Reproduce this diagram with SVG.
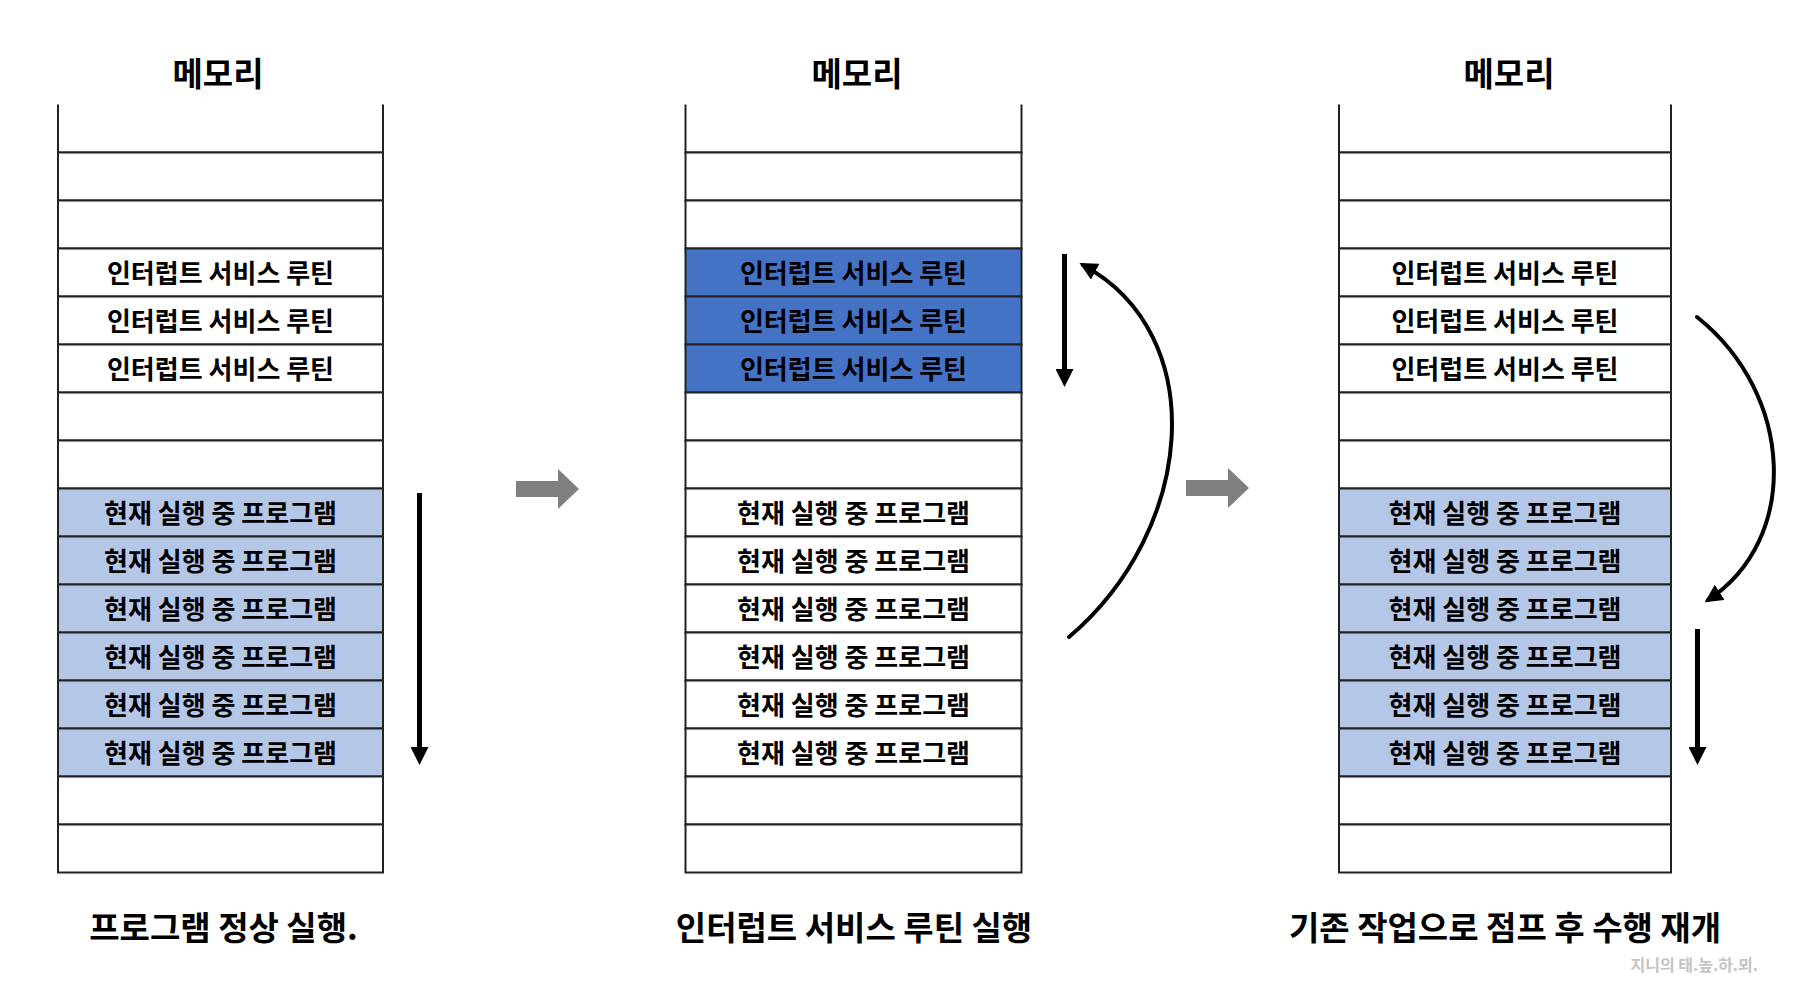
<svg xmlns="http://www.w3.org/2000/svg" width="1797" height="986" viewBox="0 0 1797 986">
<style>
text{font-family:"Noto Sans CJK KR","Noto Sans",sans-serif;fill:#000;text-anchor:middle;dominant-baseline:central}
.title{font-size:33px;font-weight:700}
.cap{font-size:33px;font-weight:700}
.lbl{font-size:26px;font-weight:700}
.wm{font-size:16px;font-weight:700;fill:#c4c4c4;text-anchor:end}
.cell{stroke:#222;stroke-width:2;fill:#fff}
.lb{fill:#b4c7e7}
.db{fill:#4472c4}
.shaft{stroke:#000;stroke-width:5;fill:none}
.curve{stroke:#000;stroke-width:4;fill:none;stroke-linecap:round}
.block{fill:#7f7f7f}
</style>
<defs>
<marker id="ah" markerUnits="userSpaceOnUse" markerWidth="18" markerHeight="18" viewBox="0 0 18 18" refX="0" refY="9" orient="auto"><path d="M0,0 L18,9 L0,18 z" fill="#000"/></marker>
<marker id="ahc" markerUnits="userSpaceOnUse" markerWidth="18" markerHeight="18" viewBox="0 0 18 18" refX="14" refY="9" orient="auto"><path d="M0,0 L18,9 L0,18 z" fill="#000"/></marker>
</defs>

<text class="title" x="218" y="72">메모리</text>
<text class="title" x="857" y="72">메모리</text>
<text class="title" x="1509" y="72">메모리</text>

<!-- Left column -->
<g id="col-left">
<g id="L0"><path class="cell" d="M58,104.5 V152.5 H383 V104.5"/></g>
<g id="L1"><rect class="cell" x="58" y="152.5" width="325" height="48"/></g>
<g id="L2"><rect class="cell" x="58" y="200.5" width="325" height="48"/></g>
<g id="L3"><rect class="cell" x="58" y="248.5" width="325" height="48"/><text class="lbl" x="220.5" y="271">인터럽트 서비스 루틴</text></g>
<g id="L4"><rect class="cell" x="58" y="296.5" width="325" height="48"/><text class="lbl" x="220.5" y="319">인터럽트 서비스 루틴</text></g>
<g id="L5"><rect class="cell" x="58" y="344.5" width="325" height="48"/><text class="lbl" x="220.5" y="367">인터럽트 서비스 루틴</text></g>
<g id="L6"><rect class="cell" x="58" y="392.5" width="325" height="48"/></g>
<g id="L7"><rect class="cell" x="58" y="440.5" width="325" height="48"/></g>
<g id="L8"><rect class="cell lb" x="58" y="488.5" width="325" height="48"/><text class="lbl" x="220.5" y="511">현재 실행 중 프로그램</text></g>
<g id="L9"><rect class="cell lb" x="58" y="536.5" width="325" height="48"/><text class="lbl" x="220.5" y="559">현재 실행 중 프로그램</text></g>
<g id="L10"><rect class="cell lb" x="58" y="584.5" width="325" height="48"/><text class="lbl" x="220.5" y="607">현재 실행 중 프로그램</text></g>
<g id="L11"><rect class="cell lb" x="58" y="632.5" width="325" height="48"/><text class="lbl" x="220.5" y="655">현재 실행 중 프로그램</text></g>
<g id="L12"><rect class="cell lb" x="58" y="680.5" width="325" height="48"/><text class="lbl" x="220.5" y="703">현재 실행 중 프로그램</text></g>
<g id="L13"><rect class="cell lb" x="58" y="728.5" width="325" height="48"/><text class="lbl" x="220.5" y="751">현재 실행 중 프로그램</text></g>
<g id="L14"><rect class="cell" x="58" y="776.5" width="325" height="48"/></g>
<g id="L15"><rect class="cell" x="58" y="824.5" width="325" height="48"/></g>
</g>

<!-- Middle column -->
<g id="col-mid">
<g id="M0"><path class="cell" d="M685.5,104.5 V152.5 H1021.5 V104.5"/></g>
<g id="M1"><rect class="cell" x="685.5" y="152.5" width="336" height="48"/></g>
<g id="M2"><rect class="cell" x="685.5" y="200.5" width="336" height="48"/></g>
<g id="M3"><rect class="cell db" x="685.5" y="248.5" width="336" height="48"/><text class="lbl" x="853.5" y="271">인터럽트 서비스 루틴</text></g>
<g id="M4"><rect class="cell db" x="685.5" y="296.5" width="336" height="48"/><text class="lbl" x="853.5" y="319">인터럽트 서비스 루틴</text></g>
<g id="M5"><rect class="cell db" x="685.5" y="344.5" width="336" height="48"/><text class="lbl" x="853.5" y="367">인터럽트 서비스 루틴</text></g>
<g id="M6"><rect class="cell" x="685.5" y="392.5" width="336" height="48"/></g>
<g id="M7"><rect class="cell" x="685.5" y="440.5" width="336" height="48"/></g>
<g id="M8"><rect class="cell" x="685.5" y="488.5" width="336" height="48"/><text class="lbl" x="853.5" y="511">현재 실행 중 프로그램</text></g>
<g id="M9"><rect class="cell" x="685.5" y="536.5" width="336" height="48"/><text class="lbl" x="853.5" y="559">현재 실행 중 프로그램</text></g>
<g id="M10"><rect class="cell" x="685.5" y="584.5" width="336" height="48"/><text class="lbl" x="853.5" y="607">현재 실행 중 프로그램</text></g>
<g id="M11"><rect class="cell" x="685.5" y="632.5" width="336" height="48"/><text class="lbl" x="853.5" y="655">현재 실행 중 프로그램</text></g>
<g id="M12"><rect class="cell" x="685.5" y="680.5" width="336" height="48"/><text class="lbl" x="853.5" y="703">현재 실행 중 프로그램</text></g>
<g id="M13"><rect class="cell" x="685.5" y="728.5" width="336" height="48"/><text class="lbl" x="853.5" y="751">현재 실행 중 프로그램</text></g>
<g id="M14"><rect class="cell" x="685.5" y="776.5" width="336" height="48"/></g>
<g id="M15"><rect class="cell" x="685.5" y="824.5" width="336" height="48"/></g>
</g>

<!-- Right column -->
<g id="col-right">
<g id="R0"><path class="cell" d="M1339,104.5 V152.5 H1671 V104.5"/></g>
<g id="R1"><rect class="cell" x="1339" y="152.5" width="332" height="48"/></g>
<g id="R2"><rect class="cell" x="1339" y="200.5" width="332" height="48"/></g>
<g id="R3"><rect class="cell" x="1339" y="248.5" width="332" height="48"/><text class="lbl" x="1505" y="271">인터럽트 서비스 루틴</text></g>
<g id="R4"><rect class="cell" x="1339" y="296.5" width="332" height="48"/><text class="lbl" x="1505" y="319">인터럽트 서비스 루틴</text></g>
<g id="R5"><rect class="cell" x="1339" y="344.5" width="332" height="48"/><text class="lbl" x="1505" y="367">인터럽트 서비스 루틴</text></g>
<g id="R6"><rect class="cell" x="1339" y="392.5" width="332" height="48"/></g>
<g id="R7"><rect class="cell" x="1339" y="440.5" width="332" height="48"/></g>
<g id="R8"><rect class="cell lb" x="1339" y="488.5" width="332" height="48"/><text class="lbl" x="1505" y="511">현재 실행 중 프로그램</text></g>
<g id="R9"><rect class="cell lb" x="1339" y="536.5" width="332" height="48"/><text class="lbl" x="1505" y="559">현재 실행 중 프로그램</text></g>
<g id="R10"><rect class="cell lb" x="1339" y="584.5" width="332" height="48"/><text class="lbl" x="1505" y="607">현재 실행 중 프로그램</text></g>
<g id="R11"><rect class="cell lb" x="1339" y="632.5" width="332" height="48"/><text class="lbl" x="1505" y="655">현재 실행 중 프로그램</text></g>
<g id="R12"><rect class="cell lb" x="1339" y="680.5" width="332" height="48"/><text class="lbl" x="1505" y="703">현재 실행 중 프로그램</text></g>
<g id="R13"><rect class="cell lb" x="1339" y="728.5" width="332" height="48"/><text class="lbl" x="1505" y="751">현재 실행 중 프로그램</text></g>
<g id="R14"><rect class="cell" x="1339" y="776.5" width="332" height="48"/></g>
<g id="R15"><rect class="cell" x="1339" y="824.5" width="332" height="48"/></g>
</g>

<!-- Connectors -->
<g id="connectors">
<line class="shaft" x1="419.5" y1="493" x2="419.5" y2="747" marker-end="url(#ah)"/>
<line class="shaft" x1="1064.5" y1="254" x2="1064.5" y2="369" marker-end="url(#ah)"/>
<line class="shaft" x1="1697.5" y1="629" x2="1697.5" y2="747" marker-end="url(#ah)"/>
<path class="curve" d="M1069,637 C1195,530 1212,335 1083,265" marker-end="url(#ahc)"/>
<path class="curve" d="M1697,317 C1795,395 1800,540 1708,600" marker-end="url(#ahc)"/>
<polygon class="block" points="516,481 558,481 558,469 579,489 558,509 558,497 516,497"/>
<polygon class="block" points="1186,480 1228,480 1228,468 1249,488 1228,508 1228,496 1186,496"/>
</g>

<text class="cap" x="223.5" y="926">프로그램 정상 실행.</text>
<text class="cap" x="854" y="926">인터럽트 서비스 루틴 실행</text>
<text class="cap" x="1505" y="926">기존 작업으로 점프 후 수행 재개</text>
<text class="wm" x="1758" y="964">지니의 태.높.하.뫼.</text>
</svg>
